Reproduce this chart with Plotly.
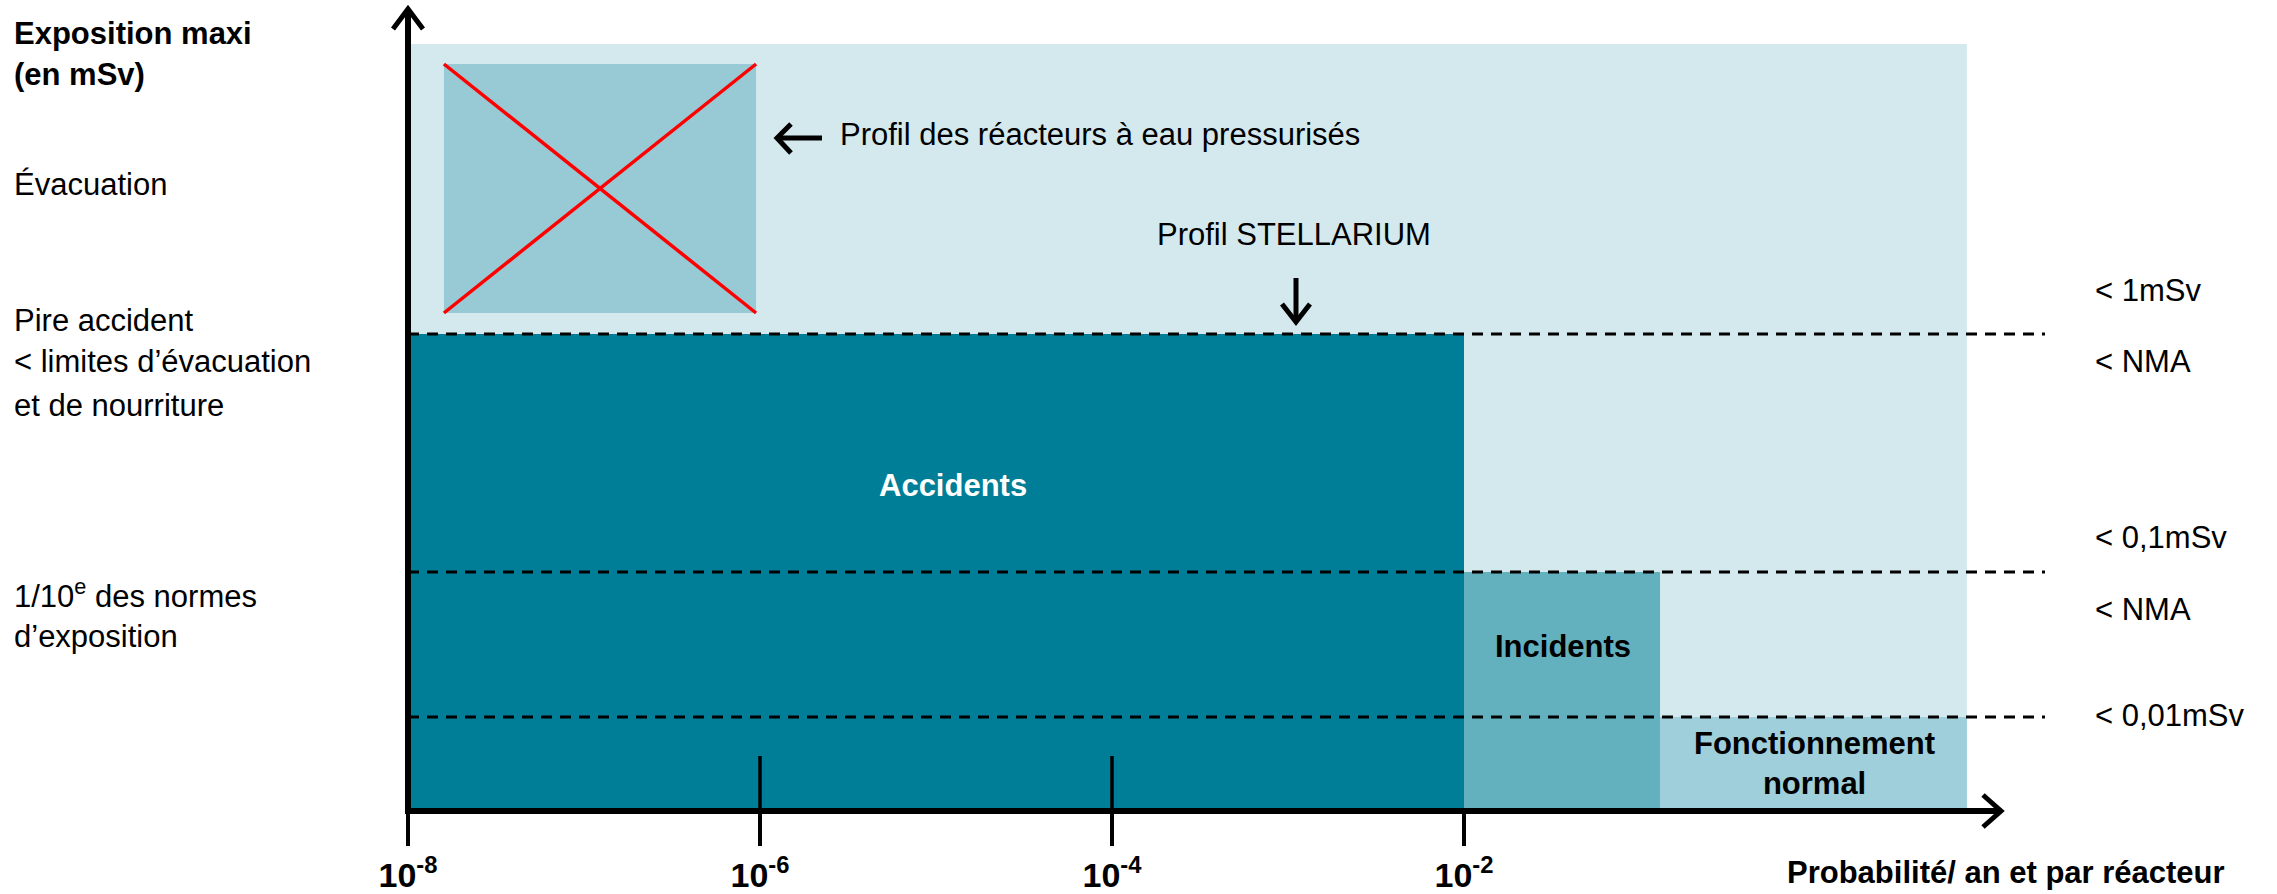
import plotly.graph_objects as go

# ---------------- data ----------------
# zones: probability range (per year & reactor) and exposure level (chart units)
zone_names = ["Fond", "Profil REP", "Accidents", "Incidents", "Fonctionnement normal"]
zone_x0 = [1e-8, 1.6e-8, 1e-8, 1e-2, 0.13]
zone_x1 = [7.2, 9.5e-7, 1e-2, 0.13, 7.2]
zone_y0 = [0.0, 4.98, 0.0, 0.0, 0.0]
zone_y1 = [7.67, 7.47, 4.77, 2.39, 0.94]
zone_colors = ["#D4E9EE", "#98CAD5", "#007E97", "#63B1BF", "#9ECFDA"]

# dashed threshold levels
threshold_levels = [4.77, 2.39, 0.94]
threshold_x = [1e-8, 20]

# x ticks
tick_vals = [1e-8, 1e-6, 1e-4, 1e-2]
tick_text = ["<b>10<sup>-8</sup></b>", "<b>10<sup>-6</sup></b>",
             "<b>10<sup>-4</sup></b>", "<b>10<sup>-2</sup></b>"]
inner_tick_vals = [1e-6, 1e-4]
inner_tick_height = 0.55

# left labels
left_labels = ["<b>Exposition maxi</b>", "<b>(en mSv)</b>", "Évacuation",
               "Pire accident", "< limites d’évacuation", "et de nourriture",
               "1/10<sup>e</sup> des normes", "d’exposition"]
left_label_y = [33, 75, 184, 320, 362, 405, 594, 636]

# right labels
right_labels = ["< 1mSv", "< NMA", "< 0,1mSv", "< NMA", "< 0,01mSv"]
right_label_y = [290, 361, 537, 609, 715]

FONT = "Arial, Liberation Sans, Arimo, sans-serif"
W, H = 2277, 894
L, R, T, B = 408, 2050, 7, 811


def px(x):
    return (x - L) / (R - L)


def py(y):
    return (B - y) / (B - T)


fig = go.Figure()

# zones
for i, name in enumerate(zone_names):
    xs = [zone_x0[i], zone_x1[i], zone_x1[i], zone_x0[i], zone_x0[i]]
    ys = [zone_y0[i], zone_y0[i], zone_y1[i], zone_y1[i], zone_y0[i]]
    fig.add_trace(go.Scatter(x=xs, y=ys, mode="lines", fill="toself",
                             fillcolor=zone_colors[i], line=dict(width=0),
                             hoverinfo="skip", showlegend=False, name=name))
    if name == "Profil REP":
        fig.add_trace(go.Scatter(x=[zone_x0[i], zone_x1[i]], y=[zone_y0[i], zone_y1[i]],
                                 mode="lines", line=dict(color="#FF0000", width=3.5),
                                 hoverinfo="skip", showlegend=False))
        fig.add_trace(go.Scatter(x=[zone_x0[i], zone_x1[i]], y=[zone_y1[i], zone_y0[i]],
                                 mode="lines", line=dict(color="#FF0000", width=3.5),
                                 hoverinfo="skip", showlegend=False))

# dashed thresholds
for lev in threshold_levels:
    fig.add_trace(go.Scatter(x=threshold_x, y=[lev, lev], mode="lines",
                             line=dict(color="black", width=3, dash="11px,8px"),
                             hoverinfo="skip", showlegend=False, cliponaxis=False))

# inner tick marks
for tv in inner_tick_vals:
    fig.add_trace(go.Scatter(x=[tv, tv], y=[0, inner_tick_height], mode="lines",
                             line=dict(color="black", width=3.5),
                             hoverinfo="skip", showlegend=False))

shapes = []
blk = dict(color="black", width=6)
# axes with open arrowheads
shapes.append(dict(type="line", xref="paper", yref="paper", x0=px(408), y0=py(814), x1=px(408), y1=py(9), line=blk))
shapes.append(dict(type="path", xref="paper", yref="paper",
                   path=f"M {px(393)},{py(29)} L {px(408)},{py(9)} L {px(423)},{py(29)}",
                   line=dict(color="black", width=5)))
shapes.append(dict(type="line", xref="paper", yref="paper", x0=px(405), y0=py(811), x1=px(2000), y1=py(811), line=blk))
shapes.append(dict(type="path", xref="paper", yref="paper",
                   path=f"M {px(1983)},{py(795)} L {px(2001)},{py(811)} L {px(1983)},{py(827)}",
                   line=dict(color="black", width=5)))
# arrow to PWR profile
shapes.append(dict(type="line", xref="paper", yref="paper", x0=px(822), y0=py(138), x1=px(778), y1=py(138),
                   line=dict(color="black", width=5)))
shapes.append(dict(type="path", xref="paper", yref="paper",
                   path=f"M {px(791)},{py(124)} L {px(777)},{py(138)} L {px(791)},{py(153)}",
                   line=dict(color="black", width=5)))
# arrow to STELLARIUM profile
shapes.append(dict(type="line", xref="paper", yref="paper", x0=px(1296), y0=py(278), x1=px(1296), y1=py(322),
                   line=dict(color="black", width=5)))
shapes.append(dict(type="path", xref="paper", yref="paper",
                   path=f"M {px(1282)},{py(304)} L {px(1296)},{py(322)} L {px(1310)},{py(304)}",
                   line=dict(color="black", width=5)))

annotations = []
for txt, yy in zip(left_labels, left_label_y):
    annotations.append(dict(text=txt, xref="paper", yref="paper", x=px(12), y=py(yy),
                            xanchor="left", yanchor="middle", showarrow=False,
                            font=dict(family=FONT, size=31, color="black")))
for txt, yy in zip(right_labels, right_label_y):
    annotations.append(dict(text=txt, xref="paper", yref="paper", x=px(2093), y=py(yy),
                            xanchor="left", yanchor="middle", showarrow=False,
                            font=dict(family=FONT, size=31, color="black")))

annotations += [
    dict(text="Profil des réacteurs à eau pressurisés", xref="paper", yref="paper",
         x=px(838), y=py(134), xanchor="left", yanchor="middle", showarrow=False,
         font=dict(family=FONT, size=31, color="black")),
    dict(text="Profil STELLARIUM", xref="paper", yref="paper",
         x=px(1294), y=py(234), xanchor="center", yanchor="middle", showarrow=False,
         font=dict(family=FONT, size=31, color="black")),
    dict(text="<b>Accidents</b>", xref="paper", yref="paper",
         x=px(953), y=py(486), xanchor="center", yanchor="middle", showarrow=False,
         font=dict(family=FONT, size=31, color="white")),
    dict(text="<b>Incidents</b>", xref="paper", yref="paper",
         x=px(1563), y=py(646), xanchor="center", yanchor="middle", showarrow=False,
         font=dict(family=FONT, size=31, color="black")),
    dict(text="<b>Fonctionnement<br>normal</b>", xref="paper", yref="paper",
         x=px(1814), y=py(763), xanchor="center", yanchor="middle", showarrow=False,
         font=dict(family=FONT, size=31, color="black")),
    dict(text="<b>Probabilité/ an et par réacteur</b>", xref="paper", yref="paper",
         x=px(2227), y=py(872), xanchor="right", yanchor="middle", showarrow=False,
         font=dict(family=FONT, size=31, color="black")),
]

fig.update_layout(
    width=W, height=H,
    margin=dict(l=L, r=W - R, t=T, b=H - B, pad=0, autoexpand=False),
    paper_bgcolor="white", plot_bgcolor="white",
    showlegend=False,
    shapes=shapes,
    annotations=annotations,
    xaxis=dict(type="log", range=[-8, -8 + (R - L) / 176.0], showgrid=False, zeroline=False,
               showline=False, tickmode="array", tickvals=tick_vals, ticktext=tick_text,
               ticks="outside", ticklen=34, tickwidth=3.5, tickcolor="black",
               tickfont=dict(family=FONT, size=34, color="black"), fixedrange=True,
               automargin=False),
    yaxis=dict(range=[0, (B - T) / 100.0], showgrid=False, zeroline=False, showline=False,
               showticklabels=False, ticks="", fixedrange=True, automargin=False),
)

fig.write_html(
    "out.html",
    config={"displayModeBar": False},
    post_script="document.body.style.margin='0';document.body.style.padding='0';"
                "document.documentElement.style.overflow='hidden';",
)
